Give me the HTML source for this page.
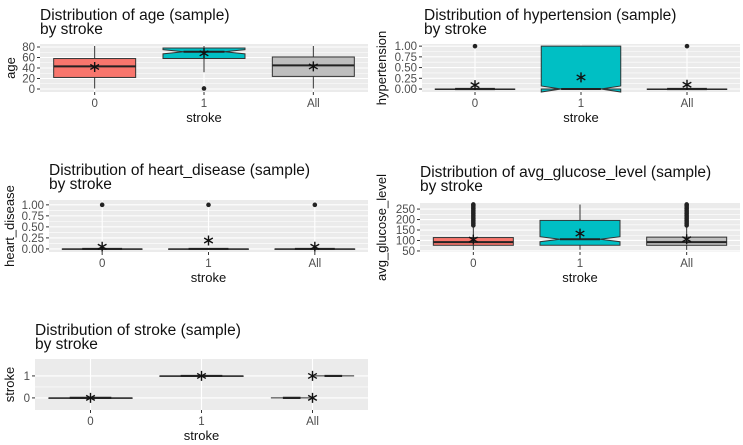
<!DOCTYPE html>
<html><head><meta charset="utf-8"><style>
html,body{margin:0;padding:0;background:#fff;}
svg{display:block;font-family:"Liberation Sans",sans-serif;}
</style></head><body>
<svg id="fig" width="743" height="445" viewBox="0 0 743 445"></svg>
<script>
const categories = ["0","1","All"];
// age
const ageQ1=[22,58,24], ageMed=[43,71,45], ageQ3=[58,78,61], ageLo=[1,32,1], ageHi=[82,82,82], ageMean=[42,68,43];
const ageOut=[[],[1],[]];
// hypertension
const hypQ1=[0,0,0], hypMed=[0,0,0], hypQ3=[0,1,0], hypLo=[0,0,0], hypHi=[0,1,0], hypMean=[0.09,0.27,0.1];
const hypOut=[[1],[],[1]];
// heart disease
const hrtQ1=[0,0,0], hrtMed=[0,0,0], hrtQ3=[0,0,0], hrtLo=[0,0,0], hrtHi=[0,0,0], hrtMean=[0.05,0.19,0.05];
const hrtOut=[[1],[1],[1]];
// avg glucose level
const gluQ1=[77,77,77], gluMed=[92,106,92], gluQ3=[114,196,116], gluLo=[55,56,55], gluHi=[168,272,170], gluMean=[104,133,106];
const gluOutValues=[172,180,188,196,204,212,220,228,236,244,252,260,268,272];
const gluOut=[gluOutValues,[],gluOutValues];
// stroke
const strQ1=[0,1,0], strMed=[0,1,0], strQ3=[0,1,1], strLo=[0,1,0], strHi=[0,1,1], strMean=[0,1,0.5];
const ageTicks=[0,20,40,60,80], hypTicks=[0,0.25,0.5,0.75,1], hrtTicks=[0,0.25,0.5,0.75,1], gluTicks=[50,100,150,200,250], strTicks=[0,1];
const hypLabels=["0.00","0.25","0.50","0.75","1.00"];

const fills=["#F8766D","#00BFC4","#BEBEBE"];
const svg=document.getElementById('fig');
const NS="http://www.w3.org/2000/svg";
function mk(tag,attrs,parent,name,inter){
  const e=document.createElementNS(NS,tag);
  for(const k in attrs)e.setAttribute(k,attrs[k]);
  
  
  (parent||svg).appendChild(e);return e;
}
function star(g,cx,cy){
  const r=5,a=r*0.866,b=r*0.5;
  mk('path',{d:`M${cx},${cy-r}L${cx},${cy+r}M${cx-a},${cy-b}L${cx+a},${cy+b}M${cx-a},${cy+b}L${cx+a},${cy-b}`,stroke:'#111','stroke-width':1.4,fill:'none'},g,'mean-marker',false);
}
function panel(p){
  const g=mk('g',{},svg,p.id+'-panel',false);
  const {x0,x1,y0,y1,dmin,dmax}=p;
  const ys=v=>y1-(v-dmin)/(dmax-dmin)*(y1-y0);
  const step=(x1-x0)/3;
  const xs=i=>x0+step*(i+0.5);
  const bw=step*0.75;
  mk('rect',{x:x0,y:y0,width:x1-x0,height:y1-y0,fill:'#EBEBEB'},g,'plot-background',false);
  for(let i=0;i<p.ticks.length-1;i++){
    const m=(p.ticks[i]+p.ticks[i+1])/2;
    mk('line',{x1:x0,x2:x1,y1:ys(m),y2:ys(m),stroke:'#fff','stroke-width':0.6},g,'minor-gridline',false);
  }
  p.ticks.forEach((t,i)=>{
    const y=ys(t);
    mk('line',{x1:x0,x2:x1,y1:y,y2:y,stroke:'#fff','stroke-width':1.1},g,'major-gridline',false);
    mk('line',{x1:x0-3,x2:x0,y1:y,y2:y,stroke:'#333','stroke-width':1},g,'y-tick',false);
    const tx=mk('text',{x:x0-5,y:y+4,'text-anchor':'end','font-size':11.5,fill:'#4D4D4D'},g,'y-tick-label',false);
    tx.textContent=p.labels?p.labels[i]:t;
  });
  categories.forEach((c,i)=>{
    mk('line',{x1:xs(i),x2:xs(i),y1:y0,y2:y1,stroke:'#fff','stroke-width':1.1},g,'x-gridline',false);
    mk('line',{x1:xs(i),x2:xs(i),y1:y1,y2:y1+3,stroke:'#333'},g,'x-tick',false);
    const tx=mk('text',{x:xs(i),y:y1+15,'text-anchor':'middle','font-size':11.5,fill:'#4D4D4D'},g,'x-tick-label',false);
    tx.textContent=c;
  });
  categories.forEach((c,i)=>{
    const cx=xs(i);
    if(p.split&&i===2){
      mk('line',{x1:cx-bw/2,x2:cx-2,y1:ys(0),y2:ys(0),stroke:'#333','stroke-width':1},g,'box-all-0',false);
      mk('line',{x1:cx-bw/2+12,x2:cx-12,y1:ys(0),y2:ys(0),stroke:'#222','stroke-width':2.2},g,'median-all-0',false);
      mk('line',{x1:cx+2,x2:cx+bw/2,y1:ys(1),y2:ys(1),stroke:'#333','stroke-width':1},g,'box-all-1',false);
      mk('line',{x1:cx+12,x2:cx+bw/2-12,y1:ys(1),y2:ys(1),stroke:'#222','stroke-width':2.2},g,'median-all-1',false);
      [0,1].forEach(v=>star(g,cx,ys(v)));
      return;
    }
    mk('line',{x1:cx,x2:cx,y1:ys(p.lo[i]),y2:ys(p.hi[i]),stroke:'#333','stroke-width':1},g,'whisker-'+c,false);
    const yq1=ys(p.q1[i]),yq3=ys(p.q3[i]);
    if(p.notch&&p.notch[i]){
      const n=p.notch[i],ym=ys(p.med[i]),l=cx-bw/2,r=cx+bw/2,il=cx-bw/4,ir=cx+bw/4;
      const yn1=ys(p.med[i]-n),yn2=ys(p.med[i]+n);
      mk('path',{d:`M${l},${yq3}L${r},${yq3}L${r},${yn2}L${ir},${ym}L${r},${yn1}L${r},${yq1}L${l},${yq1}L${l},${yn1}L${il},${ym}L${l},${yn2}Z`,fill:fills[i],stroke:'#333','stroke-width':1},g,'box-'+c,false);
      mk('line',{x1:il,x2:ir,y1:ym,y2:ym,stroke:'#222','stroke-width':2},g,'median-'+c,false);
    }else{
      mk('rect',{x:cx-bw/2,y:yq3,width:bw,height:Math.max(yq1-yq3,0.5),fill:fills[i],stroke:'#333','stroke-width':1},g,'box-'+c,false);
      mk('line',{x1:cx-bw/2,x2:cx+bw/2,y1:ys(p.med[i]),y2:ys(p.med[i]),stroke:'#222','stroke-width':p.q1[i]===p.q3[i]?1:2},g,'median-'+c,false);
      if(p.q1[i]===p.q3[i]) mk('line',{x1:cx-bw/4,x2:cx+bw/4,y1:ys(p.med[i]),y2:ys(p.med[i]),stroke:'#222','stroke-width':2.2},g,'median-'+c,false);
    }
    (p.out[i]||[]).forEach(v=>mk('circle',{cx:cx,cy:ys(v),r:2.3,fill:'#222'},g,'outlier-point',false));
    star(g,cx,ys(p.mean[i]));
  });
  const t1=mk('text',{x:p.tx,y:p.ty,'font-size':15.5,fill:'#111'},g,'panel-title',false);t1.textContent=p.title;
  const t2=mk('text',{x:p.tx,y:p.ty+14,'font-size':15.5,fill:'#111'},g,'panel-subtitle',false);t2.textContent='by stroke';
  const xt=mk('text',{x:(x0+x1)/2,y:y1+30,'text-anchor':'middle','font-size':13,fill:'#111'},g,'x-axis-title',false);xt.textContent='stroke';
  const yc=(y0+y1)/2;
  const yt=mk('text',{x:p.ylx,y:yc,'text-anchor':'middle','font-size':13,fill:'#111',transform:`rotate(-90 ${p.ylx} ${yc})`},g,'y-axis-title',false);yt.textContent=p.ylab;
}
panel({id:'age',x0:40,x1:368,y0:44,y1:92,dmin:-5.7,dmax:85.7,ticks:ageTicks,q1:ageQ1,med:ageMed,q3:ageQ3,lo:ageLo,hi:ageHi,mean:ageMean,out:ageOut,notch:[0,4,0],title:'Distribution of age (sample)',tx:40,ty:20,ylx:15,ylab:'age'});
panel({id:'hypertension',x0:422,x1:740,y0:44,y1:92,dmin:-0.07,dmax:1.05,ticks:hypTicks,labels:hypLabels,q1:hypQ1,med:hypMed,q3:hypQ3,lo:hypLo,hi:hypHi,mean:hypMean,out:hypOut,notch:[0,0.07,0],title:'Distribution of hypertension (sample)',tx:424,ty:20,ylx:386,ylab:'hypertension'});
panel({id:'heart-disease',x0:49,x1:368,y0:200,y1:252,dmin:-0.07,dmax:1.11,ticks:hrtTicks,labels:hypLabels,q1:hrtQ1,med:hrtMed,q3:hrtQ3,lo:hrtLo,hi:hrtHi,mean:hrtMean,out:hrtOut,title:'Distribution of heart_disease (sample)',tx:49,ty:175,ylx:14,ylab:'heart_disease'});
panel({id:'glucose',x0:420,x1:740,y0:203,y1:252,dmin:45,dmax:279,ticks:gluTicks,q1:gluQ1,med:gluMed,q3:gluQ3,lo:gluLo,hi:gluHi,mean:gluMean,out:gluOut,notch:[0,12,0],title:'Distribution of avg_glucose_level (sample)',tx:420,ty:177,ylx:386,ylab:'avg_glucose_level'});
panel({id:'stroke',x0:35,x1:368,y0:359,y1:410,dmin:-0.55,dmax:1.77,ticks:strTicks,q1:strQ1,med:strMed,q3:strQ3,lo:strLo,hi:strHi,mean:strMean,out:[[],[],[]],split:true,title:'Distribution of stroke (sample)',tx:35,ty:335,ylx:14,ylab:'stroke'});
</script>
</body></html>
